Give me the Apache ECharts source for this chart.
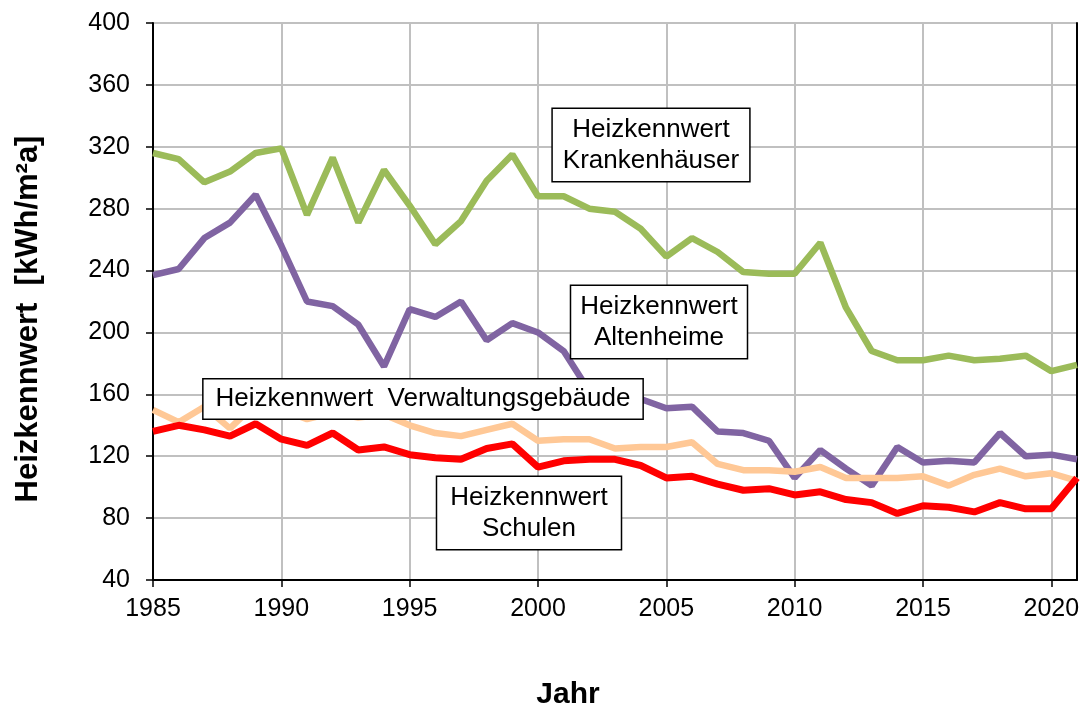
<!DOCTYPE html>
<html>
<head>
<meta charset="utf-8">
<script src="https://cdn.jsdelivr.net/npm/echarts@6/dist/echarts.min.js"></script>
<style>
  html, body { margin: 0; padding: 0; background: #fff; }
  #container { width: 1086px; height: 714px; }
</style>
</head>
<body>
<div id="container"></div>
<script>
var years = [];
for (var y = 1985; y <= 2021; y++) years.push(y);

var krankenhaeuser = [316, 312, 297, 304, 316, 319, 276, 313, 271, 305, 282, 257, 272, 298, 315, 288, 288, 280, 278, 267, 249, 261, 252, 239, 238, 238, 258, 216, 188, 182, 182, 185, 182, 183, 185, 175, 179];
var altenheime = [237, 241, 261, 271, 289, 256, 220, 217, 205, 178, 215, 210, 220, 195, 206, 200, 188, 162, 159, 157, 151, 152, 136, 135, 130, 106, 124, 112, 101, 126, 116, 117, 116, 135, 120, 121, 118];
var verwaltung = [150, 142, 152, 138, 154, 150, 144, 148, 145, 147, 140, 135, 133, 137, 141, 130, 131, 131, 125, 126, 126, 129, 115, 111, 111, 110, 113, 106, 106, 106, 107, 101, 108, 112, 107, 109, 104];
var schulen = [136, 140, 137, 133, 141, 131, 127, 135, 124, 126, 121, 119, 118, 125, 128, 113, 117, 118, 118, 114, 106, 107, 102, 98, 99, 95, 97, 92, 90, 83, 88, 87, 84, 90, 86, 86, 106];

var yTicks = [40, 80, 120, 160, 200, 240, 280, 320, 360, 400];

function pairs(vals) {
  return vals.map(function (v, i) { return [years[i], v]; });
}

var dom = document.getElementById("container");
var myChart = echarts.init(dom);
var font = '"Liberation Sans", Arial, sans-serif';

var boxStyle = {
  font: '26px ' + font,
  fill: '#000',
  backgroundColor: '#fff',
  borderColor: '#000',
  borderWidth: 1.5,
  align: 'center',
  verticalAlign: 'middle',
  lineHeight: 31
};

function label(x, y, text, pad) {
  return {
    type: 'text',
    x: x,
    y: y,
    z: 100,
    style: Object.assign({}, boxStyle, { text: text, padding: pad })
  };
}

var option = {
  animation: false,
  backgroundColor: '#fff',
  textStyle: { fontFamily: font },
  grid: { left: 153, right: 9, top: 23, bottom: 134 },
  xAxis: {
    type: 'value',
    min: 1985,
    max: 2021,
    interval: 5,
    axisLine: { lineStyle: { color: '#000', width: 2 } },
    axisTick: { show: true, length: 7, lineStyle: { color: '#000', width: 1.5 } },
    axisLabel: {
      fontSize: 25, color: '#000', margin: 17, fontFamily: font, showMaxLabel: false,
      formatter: function (v) { return String(v); }
    },
    splitLine: { show: true, lineStyle: { color: '#c0c0c0', width: 2 } }
  },
  yAxis: [{
    type: 'value',
    min: yTicks[0],
    max: yTicks[yTicks.length - 1],
    interval: 40,
    axisLine: { show: true, lineStyle: { color: '#000', width: 2 } },
    axisTick: { show: true, length: 7, lineStyle: { color: '#000', width: 1.5 } },
    axisLabel: { fontSize: 25, color: '#000', margin: 23, fontFamily: font },
    splitLine: { show: true, lineStyle: { color: '#c0c0c0', width: 2 } }
  }, {
    type: 'value',
    position: 'right',
    min: yTicks[0],
    max: yTicks[yTicks.length - 1],
    interval: 40,
    axisLine: { show: true, lineStyle: { color: '#000', width: 2 } },
    axisTick: { show: false },
    axisLabel: { show: false },
    splitLine: { show: false }
  }],
  series: [
    {
      name: 'Heizkennwert Krankenhäuser',
      type: 'line',
      data: pairs(krankenhaeuser),
      symbol: 'none',
      lineStyle: { color: '#9BBB59', width: 6.5 },
      itemStyle: { color: '#9BBB59' }
    },
    {
      name: 'Heizkennwert Altenheime',
      type: 'line',
      data: pairs(altenheime),
      symbol: 'none',
      lineStyle: { color: '#8064A2', width: 6.5 },
      itemStyle: { color: '#8064A2' }
    },
    {
      name: 'Heizkennwert Verwaltungsgebäude',
      type: 'line',
      data: pairs(verwaltung),
      symbol: 'none',
      lineStyle: { color: '#FFC896', width: 6.5 },
      itemStyle: { color: '#FFC896' }
    },
    {
      name: 'Heizkennwert Schulen',
      type: 'line',
      data: pairs(schulen),
      symbol: 'none',
      lineStyle: { color: '#FF0000', width: 7 },
      itemStyle: { color: '#FF0000' }
    }
  ],
  graphic: [
    label(651, 145, 'Heizkennwert\nKrankenhäuser', [5, 10, 5, 10]),
    label(659, 322, 'Heizkennwert\nAltenheime', [5, 9, 5, 9]),
    label(423, 399, 'Heizkennwert  Verwaltungsgebäude', [4, 12, 4, 12]),
    label(529, 513, 'Heizkennwert\nSchulen', [5, 13, 5, 13]),
    {
      type: 'text',
      x: 28,
      y: 319,
      rotation: Math.PI / 2,
      style: {
        text: 'Heizkennwert  [kWh/m²a]',
        font: 'bold 31px ' + font,
        fill: '#000',
        align: 'center',
        verticalAlign: 'middle'
      }
    },
    {
      type: 'text',
      x: 568,
      y: 695,
      style: {
        text: 'Jahr',
        font: 'bold 30px ' + font,
        fill: '#000',
        align: 'center',
        verticalAlign: 'middle'
      }
    }
  ]
};

if (option && typeof option === 'object') {
  myChart.setOption(option);
}
</script>
</body>
</html>
